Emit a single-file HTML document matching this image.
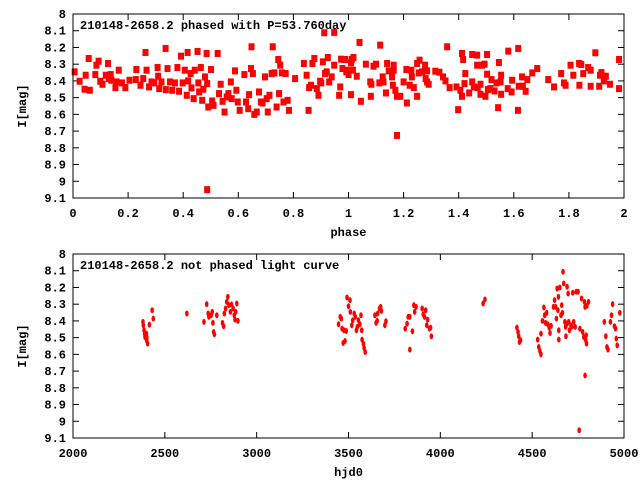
<!DOCTYPE html>
<html><head><meta charset="utf-8"><style>
body{margin:0;background:#fff}
svg text{font-family:"Liberation Mono","DejaVu Sans Mono",monospace;font-size:12px;font-weight:bold;fill:#000}
</style></head><body>
<svg id="c" width="640" height="480" xmlns="http://www.w3.org/2000/svg"></svg>
<script>
const phaseVals=[.006,.024,.042,.046,.057,.061,.081,.085,.093,.099,.107,.119,.127,.13,.137,.139,.154,.158,.166,.178,.19,.205,.23,.228,.245,.255,.263,.267,.276,.285,.295,.307,.309,.313,.321,.336,.337,.343,.352,.36,.37,.379,.385,.392,.398,.406,.413,.416,.418,.427,.43,.438,.442,.452,.455,.458,.464,.469,.473,.479,.485,.487,.491,.501,.505,.51,.525,.53,.536,.543,.55,.558,.564,.573,.576,.588,.593,.598,.605,.622,.628,.636,.639,.646,.648,.653,.658,.667,.675,.682,.688,.697,.703,.707,.713,.721,.725,.731,.739,.745,.748,.752,.758,.764,.772,.779,.784,.806,.838,.848,.855,.857,.864,.869,.876,.885,.891,.897,.901,.907,.912,.915,.921,.925,.93,.939,.948,.948,.966,.97,.973,.978,.984,.992,.487,
.988,.994,1.0,1.009,1.012,1.016,1.018,1.009,1.03,1.04,1.045,1.063,1.079,1.081,1.083,1.091,1.1,1.112,1.115,1.124,1.127,1.136,1.14,1.146,1.158,1.161,1.164,1.164,1.17,1.176,1.188,1.2,1.21,1.212,1.222,1.228,1.23,1.237,1.249,1.249,1.258,1.255,1.267,1.278,1.28,1.285,1.285,1.291,1.315,1.33,1.343,1.358,1.352,1.367,1.392,1.398,1.406,1.412,1.412,1.416,1.421,1.424,1.438,1.449,1.449,1.455,1.467,1.467,1.469,1.479,1.479,1.485,1.494,1.497,1.503,1.503,1.506,1.515,1.519,1.53,1.537,1.543,1.546,1.552,1.554,1.554,1.578,1.58,1.592,1.594,1.615,1.616,1.618,1.63,1.633,1.643,1.649,1.667,1.685,1.725,1.746,1.772,1.782,1.788,1.806,1.816,1.837,1.845,1.838,1.852,1.87,1.879,1.879,1.896,1.91,1.913,1.918,1.927,1.934,1.949,1.982,1.982,1.176];
const phaseMags=[8.346,8.402,8.45,8.366,8.266,8.456,8.362,8.306,8.282,8.402,8.42,8.366,8.296,8.386,8.362,8.396,8.44,8.406,8.336,8.412,8.44,8.396,8.332,8.392,8.426,8.386,8.23,8.336,8.436,8.406,8.412,8.32,8.372,8.446,8.406,8.206,8.452,8.326,8.406,8.456,8.412,8.32,8.462,8.252,8.412,8.336,8.486,8.23,8.4,8.356,8.442,8.506,8.336,8.224,8.412,8.466,8.32,8.516,8.45,8.376,8.236,8.416,8.556,8.332,8.52,8.546,8.236,8.476,8.42,8.522,8.586,8.496,8.476,8.406,8.506,8.34,8.456,8.526,8.576,8.362,8.526,8.566,8.482,8.326,8.196,8.356,8.6,8.586,8.466,8.526,8.532,8.376,8.506,8.586,8.486,8.356,8.196,8.352,8.556,8.272,8.476,8.306,8.352,8.526,8.356,8.516,8.576,8.386,8.296,8.366,8.576,8.44,8.426,8.296,8.266,8.446,8.486,8.402,8.412,8.286,8.112,8.356,8.346,8.26,8.406,8.376,8.11,8.306,8.486,8.436,8.27,8.326,8.272,8.346,9.05,
8.272,8.336,8.362,8.292,8.272,8.336,8.26,8.482,8.372,8.17,8.522,8.3,8.406,8.492,8.42,8.312,8.3,8.412,8.186,8.376,8.406,8.472,8.296,8.34,8.376,8.426,8.306,8.336,8.456,8.492,8.492,8.406,8.332,8.532,8.426,8.336,8.376,8.44,8.492,8.296,8.276,8.352,8.346,8.306,8.386,8.34,8.406,8.42,8.342,8.348,8.376,8.196,8.4,8.44,8.436,8.572,8.456,8.492,8.236,8.272,8.416,8.356,8.472,8.406,8.242,8.436,8.246,8.306,8.44,8.42,8.48,8.306,8.3,8.492,8.242,8.36,8.452,8.446,8.392,8.46,8.412,8.56,8.29,8.406,8.48,8.366,8.446,8.222,8.466,8.396,8.576,8.206,8.432,8.376,8.432,8.462,8.392,8.352,8.326,8.392,8.436,8.356,8.412,8.426,8.306,8.366,8.296,8.302,8.426,8.356,8.32,8.336,8.432,8.232,8.432,8.366,8.35,8.4,8.372,8.42,8.272,8.446,8.726];
const hjdVals=[2381,2383,2387,2390,2392,2396,2400,2401,2406,2402,2416,2431,2437,2620,2713,2728,2736,2740,2752,2758,2762,2766,2770,2783,2814,2820,2824,2831,2837,2843,2849,2857,2863,2872,2878,2882,2892,2898,2886,
3446,3455,3461,3465,3475,3471,3481,3488,3492,3500,3508,3510,3518,3523,3531,3537,3543,3548,3554,3562,3568,3572,3574,3581,3585,3591,3644,3650,3656,3659,3669,3675,3679,3698,3704,
3809,3819,3825,3834,3834,3848,3856,3860,3868,3901,3907,3914,3920,3926,3931,3941,3947,3951,4233,4243,4417,4423,4427,4431,4437,
4530,4536,4542,4548,4548,4556,4564,4568,4573,4579,4585,4593,4597,4603,4616,4622,4628,4632,4636,4640,4643,4645,4645,4651,4657,4661,4665,4668,4672,4678,4682,4684,4690,4696,4699,4703,4711,4721,4726,4734,4740,4750,4756,4760,4769,4775,4781,4785,4788,4788,4792,4796,4798,4807,4794,4690,4715,
4893,4901,4907,4913,4926,4932,4938,4948,4954,4958,4963,4977];
const hjdMags=[8.406,8.426,8.456,8.476,8.496,8.5,8.476,8.516,8.536,8.5,8.422,8.336,8.386,8.356,8.406,8.3,8.356,8.376,8.366,8.346,8.412,8.466,8.48,8.366,8.412,8.432,8.356,8.326,8.286,8.256,8.306,8.346,8.302,8.326,8.366,8.392,8.296,8.4,8.346,
8.42,8.376,8.386,8.446,8.456,8.532,8.52,8.46,8.26,8.312,8.276,8.346,8.426,8.396,8.356,8.376,8.456,8.436,8.396,8.42,8.366,8.456,8.512,8.536,8.562,8.586,8.366,8.412,8.4,8.356,8.326,8.316,8.34,8.426,8.402,
8.446,8.416,8.376,8.572,8.376,8.462,8.306,8.346,8.316,8.326,8.36,8.376,8.336,8.426,8.392,8.446,8.44,8.492,8.296,8.272,8.44,8.466,8.492,8.526,8.516,
8.512,8.556,8.58,8.6,8.476,8.4,8.32,8.366,8.412,8.352,8.42,8.44,8.472,8.43,8.316,8.276,8.316,8.386,8.206,8.336,8.256,8.456,8.512,8.2,8.366,8.306,8.352,8.106,8.176,8.406,8.436,8.492,8.196,8.236,8.406,8.456,8.426,8.232,8.406,8.436,8.226,8.226,9.054,8.446,8.266,8.466,8.496,8.286,8.726,8.316,8.516,8.536,8.31,8.286,8.486,8.416,8.436,
8.406,8.492,8.556,8.572,8.406,8.366,8.3,8.432,8.446,8.506,8.546,8.352];
const yTicks=["8","8.1","8.2","8.3","8.4","8.5","8.6","8.7","8.8","8.9","9","9.1"];
const phaseTicks=["0","0.2","0.4","0.6","0.8","1","1.2","1.4","1.6","1.8","2"];
const hjdTicks=["2000","2500","3000","3500","4000","4500","5000"];

const svg=document.getElementById('c');
const NS='http://www.w3.org/2000/svg';
function mk(tag,attrs,parent){const e=document.createElementNS(NS,tag);for(const k in attrs)e.setAttribute(k,attrs[k]);(parent||svg).appendChild(e);return e;}
const L=73,R=624;
function panel(top,bot,xmin,xmax,xt,xs,ys,title,xlabel,name,shape){
  const g=mk('g',{});
  
  
  const sx=v=>L+(v-xmin)/(xmax-xmin)*(R-L);
  const sy=v=>top+(v-8)/1.1*(bot-top);
  yTicks.forEach(t=>{const y=sy(parseFloat(t));
    mk('line',{x1:L,x2:L+6,y1:y,y2:y,stroke:'#000'},g);
    mk('line',{x1:R-6,x2:R,y1:y,y2:y,stroke:'#000'},g);
    const tx=mk('text',{x:L-7,y:y+4,'text-anchor':'end'},g);tx.textContent=t;
    
    
  });
  xt.forEach(t=>{const x=sx(parseFloat(t));
    mk('line',{x1:x,x2:x,y1:bot,y2:bot-6,stroke:'#000'},g);
    mk('line',{x1:x,x2:x,y1:top,y2:top+6,stroke:'#000'},g);
    const tx=mk('text',{x:x,y:bot+19,'text-anchor':'middle'},g);tx.textContent=t;
    
    
  });
  xs.forEach((v,i)=>{const x=sx(v),y=sy(ys[i]);
    let m;
    if(shape==='sq') m=mk('rect',{x:x-3,y:y-3.5,width:6,height:7,fill:'#f00'},g);
    else m=mk('ellipse',{cx:x,cy:y,rx:1.8,ry:3,fill:'#f00'},g);
    
    
  });
  const f=mk('rect',{x:L,y:top,width:R-L,height:bot-top,fill:'none',stroke:'#000','stroke-width':1},g);
  
  
  const ti=mk('text',{x:L+7,y:top+15},g);ti.textContent=title;
  
  
  const xl=mk('text',{x:(L+R)/2,y:bot+38,'text-anchor':'middle'},g);xl.textContent=xlabel;
  
  
  const yl=mk('text',{x:0,y:0,'text-anchor':'middle',transform:`translate(26,${(top+bot)/2}) rotate(-90)`},g);yl.textContent='I[mag]';
  
  
}
panel(14,198,0,2,phaseTicks,phaseVals,phaseMags,'210148-2658.2 phased with P=53.760day','phase','phased-plot','sq');
panel(254,438,2000,5000,hjdTicks,hjdVals,hjdMags,'210148-2658.2 not phased light curve','hjd0','light-curve-plot','el');
</script>
</body></html>
